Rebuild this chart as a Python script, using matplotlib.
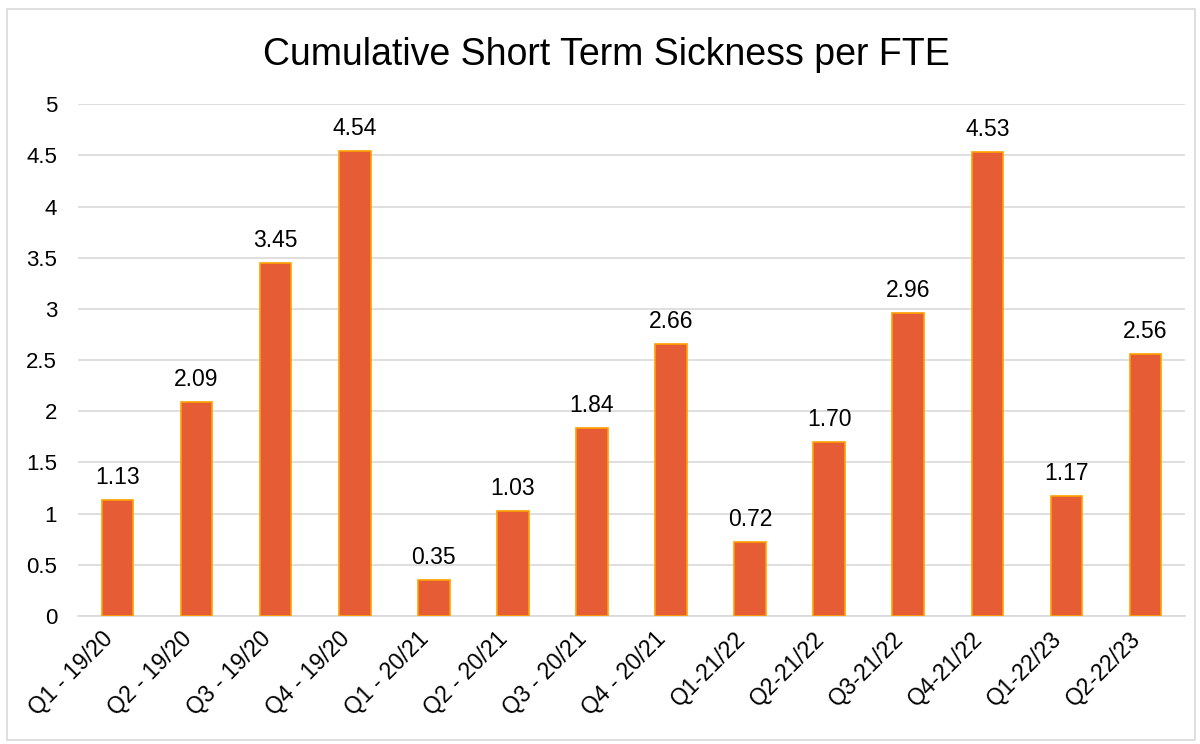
import matplotlib.pyplot as plt
from matplotlib.patches import Rectangle
from matplotlib.transforms import ScaledTranslation

plt.rcParams['font.family'] = ['Liberation Sans', 'DejaVu Sans']

# Datos
quarters = ['Q1 - 19/20', 'Q2 - 19/20', 'Q3 - 19/20', 'Q4 - 19/20',
            'Q1 - 20/21', 'Q2 - 20/21', 'Q3 - 20/21', 'Q4 - 20/21',
            'Q1-21/22', 'Q2-21/22', 'Q3-21/22', 'Q4-21/22',
            'Q1-22/23', 'Q2-22/23']
sickness = [1.13, 2.09, 3.45, 4.54, 0.35, 1.03, 1.84, 2.66,
            0.72, 1.70, 2.96, 4.53, 1.17, 2.56]
y_ticks = [0, 0.5, 1, 1.5, 2, 2.5, 3, 3.5, 4, 4.5, 5]
y_tick_labels = ['0', '0.5', '1', '1.5', '2', '2.5', '3', '3.5', '4', '4.5', '5']

fig = plt.figure(figsize=(12, 7.44), dpi=100)
ax = fig.add_axes([0.065, 0.172, 0.9225, 0.688])

# Borde del gráfico
fig.patches.append(Rectangle((7 / 1200, 4 / 744), 1188 / 1200, 731 / 744,
                             transform=fig.transFigure, fill=False,
                             edgecolor='#D9D9D9', linewidth=1.2))

x = range(len(quarters))
bars = ax.bar(x, sickness, width=0.40, color='#E65C34',
              edgecolor='#FFA000', linewidth=1.2, zorder=3)

for xi, v in zip(x, sickness):
    ax.annotate(f'{v:.2f}', (xi, v), xytext=(0, 11.5), textcoords='offset points',
                ha='center', va='baseline', fontsize=16.5, color='black')

ax.set_xlim(-0.5, len(quarters) - 0.5)
ax.set_ylim(0, 5)
ax.set_yticks(y_ticks)
ax.set_yticklabels(y_tick_labels, fontsize=16)
ax.set_xticks(list(x))
ax.set_xticklabels(quarters, fontsize=16.5, rotation=45, ha='right',
                   va='center', rotation_mode='anchor')
ax.tick_params(axis='both', length=0)
ax.tick_params(axis='y', pad=15)
ax.tick_params(axis='x', pad=14)

# desplazar etiquetas del eje x un poco a la izquierda
offset = ScaledTranslation(-6 / 72, 0, fig.dpi_scale_trans)
for lbl in ax.get_xticklabels():
    lbl.set_transform(lbl.get_transform() + offset)

ax.grid(axis='y', color='#D9D9D9', linewidth=1.2, zorder=0)
for s in ['top', 'right', 'left']:
    ax.spines[s].set_visible(False)
ax.spines['bottom'].set_color('#D9D9D9')
ax.spines['bottom'].set_linewidth(1.2)

fig.text(0.505, 0.926, 'Cumulative Short Term Sickness per FTE',
         ha='center', va='center', fontsize=27)

fig.savefig('out.png', dpi=100)
